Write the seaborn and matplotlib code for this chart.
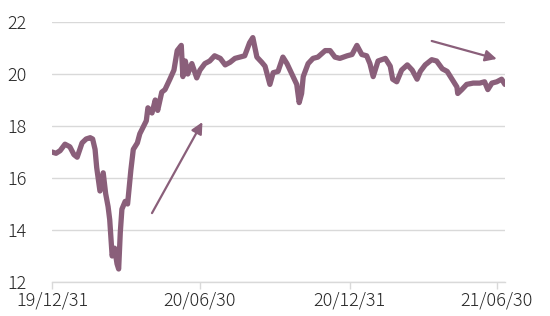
import matplotlib
matplotlib.use("Agg")
import matplotlib.pyplot as plt
import seaborn as sns
import pandas as pd

dates = [
    "2019-12-31", "2020-01-05", "2020-01-10", "2020-01-16", "2020-01-22", "2020-01-27",
    "2020-01-31", "2020-02-06", "2020-02-11", "2020-02-16", "2020-02-19", "2020-02-22",
    "2020-02-24", "2020-02-28", "2020-03-03", "2020-03-06", "2020-03-09", "2020-03-11",
    "2020-03-14", "2020-03-17", "2020-03-20", "2020-03-22", "2020-03-24", "2020-03-26",
    "2020-03-30", "2020-04-02", "2020-04-06", "2020-04-09", "2020-04-14", "2020-04-17",
    "2020-04-21", "2020-04-25", "2020-04-27", "2020-05-02", "2020-05-06", "2020-05-09",
    "2020-05-14", "2020-05-18", "2020-05-24", "2020-05-29", "2020-06-02", "2020-06-07",
    "2020-06-09", "2020-06-12", "2020-06-15", "2020-06-20", "2020-06-26", "2020-06-30",
    "2020-07-06", "2020-07-12", "2020-07-18", "2020-07-25", "2020-07-31", "2020-08-06",
    "2020-08-12", "2020-08-18", "2020-08-24", "2020-08-30", "2020-09-03", "2020-09-08",
    "2020-09-14", "2020-09-18", "2020-09-24", "2020-09-28", "2020-10-04", "2020-10-10",
    "2020-10-15", "2020-10-21", "2020-10-27", "2020-10-30", "2020-11-02", "2020-11-04",
    "2020-11-10", "2020-11-16", "2020-11-22", "2020-12-01", "2020-12-07", "2020-12-13",
    "2020-12-19", "2020-12-28", "2021-01-03", "2021-01-09", "2021-01-15", "2021-01-21",
    "2021-01-25", "2021-01-29", "2021-02-04", "2021-02-13", "2021-02-19", "2021-02-22",
    "2021-02-27", "2021-03-05", "2021-03-12", "2021-03-18", "2021-03-24", "2021-03-28",
    "2021-04-03", "2021-04-11", "2021-04-17", "2021-04-24", "2021-04-30", "2021-05-06",
    "2021-05-12", "2021-05-13", "2021-05-18", "2021-05-24", "2021-06-01", "2021-06-09",
    "2021-06-15", "2021-06-19", "2021-06-24", "2021-06-30", "2021-07-06", "2021-07-10",
]
values = [
    17.0, 16.95, 17.05, 17.3, 17.2, 16.9,
    16.8, 17.35, 17.5, 17.55, 17.5, 17.1,
    16.4, 15.5, 16.2, 15.4, 14.9, 14.4,
    13.0, 13.3, 12.7, 12.5, 13.9, 14.8,
    15.1, 15.0, 16.3, 17.1, 17.35, 17.7,
    17.95, 18.2, 18.7, 18.5, 19.0, 18.6,
    19.3, 19.4, 19.8, 20.15, 20.9, 21.1,
    19.9, 20.5, 20.0, 20.4, 19.85, 20.15,
    20.4, 20.5, 20.7, 20.6, 20.35, 20.45,
    20.6, 20.65, 20.7, 21.2, 21.4, 20.65,
    20.45, 20.3, 19.6, 20.05, 20.1, 20.65,
    20.4, 20.0, 19.6, 18.9, 19.25, 19.9,
    20.4, 20.6, 20.65, 20.9, 20.9, 20.65,
    20.6, 20.7, 20.75, 21.1, 20.75, 20.7,
    20.4, 19.9, 20.5, 20.6, 20.3, 19.8,
    19.7, 20.15, 20.35, 20.15, 19.8, 20.1,
    20.35, 20.55, 20.5, 20.2, 20.1, 19.8,
    19.5, 19.25, 19.4, 19.6, 19.65, 19.65,
    19.7, 19.4, 19.65, 19.7, 19.8, 19.6,
]
tick_dates = ["2019-12-31", "2020-06-30", "2020-12-31", "2021-06-30"]
tick_labels = ["19/12/31", "20/06/30", "20/12/31", "21/06/30"]
y_ticks = [12, 14, 16, 18, 20, 22]

arrow_up = (("2020-05-02", 14.65), ("2020-07-03", 18.15))
arrow_down = (("2021-04-11", 21.27), ("2021-06-30", 20.58))

sns.set_theme(style="white")
plt.rcParams['font.family'] = ['Noto Sans CJK JP', 'DejaVu Sans']
plt.rcParams['font.weight'] = 'light'

df = pd.DataFrame({"date": pd.to_datetime(dates), "value": values})
color = "#8a5f7a"

fig = plt.figure(figsize=(5.5, 3.16), dpi=100)
ax = fig.add_axes([0.0945, 0.1076, 0.8235, 0.8228])
sns.lineplot(data=df, x="date", y="value", ax=ax, color=color, linewidth=3.8)

for (t0, v0), (t1, v1) in (arrow_up, arrow_down):
    ax.annotate("", xy=(pd.Timestamp(t1), v1), xytext=(pd.Timestamp(t0), v0),
                arrowprops=dict(arrowstyle="-|>", color=color, lw=1.6,
                                mutation_scale=17, shrinkA=0, shrinkB=0))

ax.set_ylim(12, 22)
ax.set_yticks(y_ticks)
ax.set_xlim(df["date"].iloc[0], df["date"].iloc[-1])
ax.set_xticks(pd.to_datetime(tick_dates))
ax.set_xticklabels(tick_labels)
ax.grid(axis="y", color="#d9d9d9", linewidth=1.0)
ax.set_axisbelow(True)
for s in ["left", "right", "top"]:
    ax.spines[s].set_visible(False)
ax.spines["bottom"].set_color("#d9d9d9")
ax.spines["bottom"].set_linewidth(1.0)
ax.tick_params(axis="x", bottom=True, length=5, width=1, color="#d9d9d9",
               labelsize=13, labelcolor="#262626", pad=2)
ax.tick_params(axis="y", left=False, labelsize=13, labelcolor="#262626", pad=12)
ax.set_xlabel("")
ax.set_ylabel("")

fig.savefig("out.png", dpi=100)
